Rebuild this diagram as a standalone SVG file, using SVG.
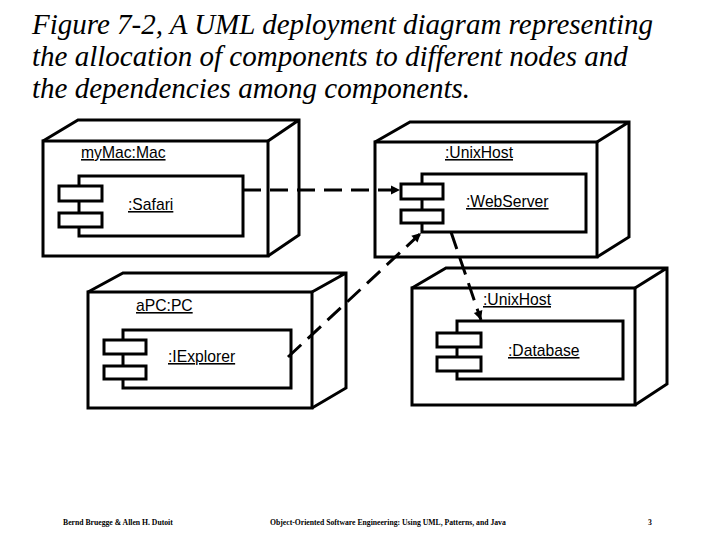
<svg xmlns="http://www.w3.org/2000/svg" width="720" height="540" viewBox="0 0 720 540">
<style>
.s{fill:none;stroke:#000;stroke-width:3;stroke-linejoin:miter}
.w{fill:#fff;stroke:#000;stroke-width:3}
.t{font-family:"Liberation Sans",Arial,sans-serif;font-size:15.7px;text-decoration:underline}
.title{font-family:"Liberation Serif","Times New Roman",serif;font-style:italic;font-size:29px}
.f{font-family:"Liberation Serif",serif;font-size:7.7px;font-weight:bold}
.d{fill:none;stroke:#000;stroke-width:3;stroke-dasharray:18 9}
</style>
<defs>
<marker id="a" viewBox="0 0 10 10" refX="10" refY="5" markerWidth="10" markerHeight="9" orient="auto" markerUnits="userSpaceOnUse" style="overflow:visible"><path d="M0,0L10,5L0,10z" fill="#000"/></marker>
</defs>
<rect width="720" height="540" fill="#fff"/>
<text class="title" x="32" y="34">Figure 7-2, A UML deployment diagram representing</text>
<text class="title" x="32" y="66">the allocation of components to different nodes and</text>
<text class="title" x="32" y="98">the dependencies among components.</text>

<g id="myMac">
<path class="s" d="M43,141L78,120H299V235L268,256M268,141L299,120"/>
<rect class="s" x="43" y="141" width="225" height="115"/>
<rect class="s" x="79" y="176" width="164" height="60"/>
<rect class="w" x="59" y="186" width="43" height="15"/>
<rect class="w" x="59" y="213" width="43" height="14"/>
<text class="t" x="81" y="158">myMac:Mac</text>
<text class="t" x="128" y="210">:Safari</text>
</g>
<g id="unixHost1">
<path class="s" d="M375,142L410,122H629V237L597,257M597,142L629,122"/>
<rect class="s" x="375" y="142" width="222" height="115"/>
<rect class="s" x="422" y="174" width="164" height="58"/>
<rect class="w" x="401" y="184" width="42" height="15"/>
<rect class="w" x="401" y="210" width="42" height="13"/>
<text class="t" x="445" y="158">:UnixHost</text>
<text class="t" x="466" y="207">:WebServer</text>
</g>
<g id="unixHost2">
<path class="s" d="M412,288L446,268H667V384L635,405M635,288L667,268"/>
<rect class="s" x="412" y="288" width="223" height="117"/>
<rect class="s" x="457" y="321" width="166" height="58"/>
<rect class="w" x="437" y="333" width="44" height="14"/>
<rect class="w" x="437" y="357" width="44" height="14"/>
<text class="t" x="483" y="305">:UnixHost</text>
<text class="t" x="508" y="356">:Database</text>
</g>
<g id="aPC">
<path class="s" d="M88,292L123,273H346V388L312,408M312,292L346,273"/>
<rect class="s" x="88" y="292" width="224" height="116"/>
<rect class="s" x="123" y="330" width="168" height="58"/>
<rect class="w" x="104" y="340" width="42" height="14"/>
<rect class="w" x="104" y="366" width="42" height="13"/>
<text class="t" x="136" y="311">aPC:PC</text>
<text class="t" x="168" y="362">:IExplorer</text>
</g>
<g id="connectors">
<path class="d" d="M243,190H400" marker-end="url(#a)"/>
<path class="d" d="M288,357L421,233" marker-end="url(#a)"/>
<path class="d" d="M451,232L481,320" marker-end="url(#a)"/>
</g>
<text class="f" x="63" y="525">Bernd Bruegge &amp; Allen H. Dutoit</text>
<text class="f" x="270" y="525">Object-Oriented Software Engineering: Using UML, Patterns, and Java</text>
<text class="f" x="648" y="525">3</text>
</svg>
